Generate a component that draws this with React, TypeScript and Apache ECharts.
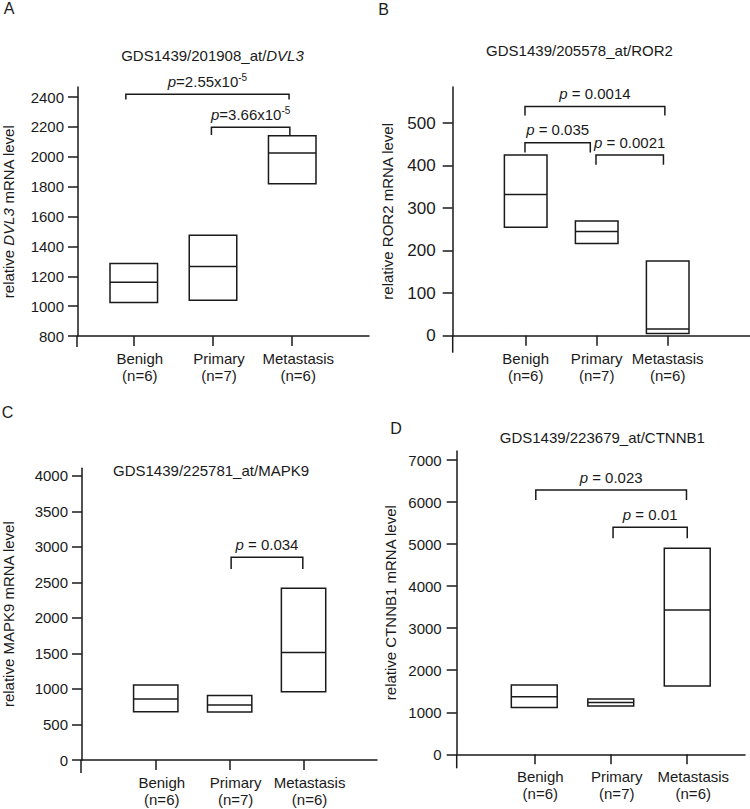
import { useEffect, useRef } from 'react';
import * as echarts from 'echarts';

// ---------- data ----------
const categories = ['Benigh', 'Primary', 'Metastasis'];
const groupSizes = [6, 7, 6];
const categoryPositions = [1, 2, 3];

const dvl3Low = [1025, 1040, 1820];
const dvl3Median = [1160, 1265, 2025];
const dvl3High = [1285, 1475, 2140];
const dvl3Ticks = [800, 1000, 1200, 1400, 1600, 1800, 2000, 2200, 2400];

const ror2Low = [255, 217, 5];
const ror2Median = [332, 245, 16];
const ror2High = [425, 270, 176];
const ror2Ticks = [0, 100, 200, 300, 400, 500];

const mapk9Low = [680, 675, 960];
const mapk9Median = [860, 775, 1515];
const mapk9High = [1055, 910, 2420];
const mapk9Ticks = [0, 500, 1000, 1500, 2000, 2500, 3000, 3500, 4000];

const ctnnb1Low = [1115, 1150, 1625];
const ctnnb1Median = [1370, 1235, 3430];
const ctnnb1High = [1650, 1315, 4900];
const ctnnb1Ticks = [0, 1000, 2000, 3000, 4000, 5000, 6000, 7000];

// brackets: [xFrom, xTo, bracket level, leg end level, label]
const dvl3Brackets: [number, number, number, number, string][] = [
  [0.9, 2.96, 2418, 2384, 'p=2.55x10^-5'],
  [1.98, 2.97, 2197, 2145, 'p=3.66x10^-5'],
];
const ror2Brackets: [number, number, number, number, string][] = [
  [0.99, 2.96, 539, 518, 'p = 0.0014'],
  [0.99, 1.91, 454, 431, 'p = 0.035'],
  [1.99, 2.94, 425, 402, 'p = 0.0021'],
];
const mapk9Brackets: [number, number, number, number, string][] = [
  [2.02, 2.99, 2855, 2690, 'p = 0.034'],
];
const ctnnb1Brackets: [number, number, number, number, string][] = [
  [1.02, 2.99, 6287, 6049, 'p = 0.023'],
  [2.03, 3.0, 5400, 5138, 'p = 0.01'],
];

// ---------- styling / layout ----------
const FONT = '"Liberation Sans", Arial, sans-serif';
const INK = '#1a1a1a';
const LW = 1.5;
const BOX_HALF = 0.3;

const panels = [
  {
    letter: 'A', letterPos: [9, 8],
    title: 'GDS1439/201908_at/{i|DVL3}', titlePos: [212.5, 55],
    yName: 'relative {i|DVL3} mRNA level', nameGap: 62,
    grid: { left: 77, top: 87, width: 292, height: 249 },
    xMin: 0.296, xMax: 3.969, yMin: 800, yMax: 2467,
    ticks: dvl3Ticks, tickFont: 15, labelMargin: 14, stub: 11, xShift: 12,
    low: dvl3Low, median: dvl3Median, high: dvl3High, brackets: dvl3Brackets,
  },
  {
    letter: 'B', letterPos: [383.5, 9],
    title: 'GDS1439/205578_at/ROR2', titlePos: [579.5, 50],
    yName: 'relative ROR2 mRNA level', nameGap: 58,
    grid: { left: 452.7, top: 87, width: 297.3, height: 248.7 },
    xMin: -0.028, xMax: 4.159, yMin: 0, yMax: 585,
    ticks: ror2Ticks, tickFont: 17, labelMargin: 17, stub: 17, xShift: 0,
    low: ror2Low, median: ror2Median, high: ror2High, brackets: ror2Brackets,
  },
  {
    letter: 'C', letterPos: [7.5, 412.5],
    title: 'GDS1439/225781_at/MAPK9', titlePos: [211, 470],
    yName: 'relative MAPK9 mRNA level', nameGap: 66,
    grid: { left: 81, top: 468.3, width: 296, height: 291.7 },
    xMin: 0.002, xMax: 3.994, yMin: 0, yMax: 4108,
    ticks: mapk9Ticks, tickFont: 15, labelMargin: 14, stub: 13, xShift: 12,
    low: mapk9Low, median: mapk9Median, high: mapk9High, brackets: mapk9Brackets,
  },
  {
    letter: 'D', letterPos: [396, 428],
    title: 'GDS1439/223679_at/CTNNB1', titlePos: [602.3, 437.7],
    yName: 'relative CTNNB1 mRNA level', nameGap: 59,
    grid: { left: 456.7, top: 451, width: 288.3, height: 303.3 },
    xMin: -0.014, xMax: 3.755, yMin: 0, yMax: 7215,
    ticks: ctnnb1Ticks, tickFont: 15, labelMargin: 15, stub: 14, xShift: 12,
    low: ctnnb1Low, median: ctnnb1Median, high: ctnnb1High, brackets: ctnnb1Brackets,
  },
];

function pLabel(s: string): string {
  const [main, sup] = s.split('^');
  const rest = main.slice(1);
  return `{i|p}{n|${rest}}` + (sup ? `{s|${sup}}` : '');
}

const pRich = {
  i: { fontStyle: 'italic', fontSize: 15, fontFamily: FONT, color: INK, lineHeight: 18 },
  n: { fontSize: 15, fontFamily: FONT, color: INK, lineHeight: 18 },
  s: { fontSize: 10, fontFamily: FONT, color: INK, verticalAlign: 'top', lineHeight: 12 },
};

function buildOption() {
  const grids: any[] = [];
  const xAxes: any[] = [];
  const yAxes: any[] = [];
  const series: any[] = [];
  const graphics: any[] = [];

  panels.forEach((p, k) => {
    grids.push({ ...p.grid, containLabel: false });
    xAxes.push({
      type: 'value', gridIndex: k, min: p.xMin, max: p.xMax,
      splitLine: { show: false },
      axisLine: { show: true, onZero: false, lineStyle: { color: INK, width: LW } },
      axisTick: { show: true, length: 10, customValues: categoryPositions, lineStyle: { color: INK, width: LW } },
      axisLabel: {
        customValues: categoryPositions,
        formatter: (v: number) => {
          const i = Math.round(v) - 1;
          return `${categories[i]}\n(n=${groupSizes[i]})`;
        },
        fontSize: 15, fontFamily: FONT, color: INK, lineHeight: 17, margin: 14,
        padding: [0, 0, 0, p.xShift],
      },
    });
    yAxes.push({
      type: 'value', gridIndex: k, min: p.yMin, max: p.yMax,
      splitLine: { show: false },
      axisLine: { show: true, onZero: false, lineStyle: { color: INK, width: LW } },
      axisTick: { show: true, length: 10, customValues: p.ticks, lineStyle: { color: INK, width: LW } },
      axisLabel: {
        customValues: p.ticks, fontSize: p.tickFont, fontFamily: FONT, color: INK, margin: p.labelMargin,
        formatter: (v: number) => String(v),
      },
      name: p.yName, nameLocation: 'middle', nameGap: p.nameGap, nameRotate: 90,
      nameTextStyle: {
        fontSize: 15, fontFamily: FONT, color: INK,
        rich: { i: { fontStyle: 'italic', fontSize: 15, fontFamily: FONT, color: INK } },
      },
    });

    const boxData = categoryPositions.map((x, i) => [x, p.low[i], p.median[i], p.high[i]]);
    series.push({
      type: 'custom', xAxisIndex: k, yAxisIndex: k, data: boxData, clip: false, z: 3,
      renderItem: (_params: any, api: any) => {
        const x = api.value(0), lo = api.value(1), md = api.value(2), hi = api.value(3);
        const tl = api.coord([x - BOX_HALF, hi]);
        const br = api.coord([x + BOX_HALF, lo]);
        const ml = api.coord([x - BOX_HALF, md]);
        const mr = api.coord([x + BOX_HALF, md]);
        return {
          type: 'group',
          children: [
            { type: 'rect', shape: { x: tl[0], y: tl[1], width: br[0] - tl[0], height: br[1] - tl[1] },
              style: { fill: '#ffffff', stroke: INK, lineWidth: LW } },
            { type: 'line', shape: { x1: ml[0], y1: ml[1], x2: mr[0], y2: mr[1] },
              style: { stroke: INK, lineWidth: LW } },
          ],
        };
      },
    });

    const brackets = p.brackets;
    series.push({
      type: 'custom', xAxisIndex: k, yAxisIndex: k, clip: false, z: 4,
      data: brackets.map((b) => [b[0], b[1], b[2], b[3]]),
      renderItem: (params: any, api: any) => {
        const x1 = api.value(0), x2 = api.value(1), y = api.value(2), leg = api.value(3);
        const a = api.coord([x1, leg]);
        const b = api.coord([x1, y]);
        const c = api.coord([x2, y]);
        const d = api.coord([x2, leg]);
        const label = brackets[params.dataIndex][4];
        return {
          type: 'group',
          children: [
            { type: 'polyline', shape: { points: [a, b, c, d] },
              style: { stroke: INK, lineWidth: LW, fill: 'none' } },
            { type: 'text', x: (b[0] + c[0]) / 2, y: b[1] - 4,
              style: { text: pLabel(label), rich: pRich, align: 'center', verticalAlign: 'bottom',
                fontSize: 15, fontFamily: FONT, fill: INK } },
          ],
        };
      },
    });

    // y-axis line continuing a little below the x axis
    const gx = p.grid.left;
    const gb = p.grid.top + p.grid.height;
    graphics.push({
      type: 'line', shape: { x1: gx, y1: gb, x2: gx, y2: gb + p.stub },
      style: { stroke: INK, lineWidth: LW },
    });
    graphics.push({
      type: 'text', x: p.titlePos[0], y: p.titlePos[1],
      style: {
        text: p.title, align: 'center', verticalAlign: 'middle', fontSize: 15, fontFamily: FONT, fill: INK,
        rich: { i: { fontStyle: 'italic', fontSize: 15, fontFamily: FONT, color: INK } },
      },
    });
    graphics.push({
      type: 'text', x: p.letterPos[0], y: p.letterPos[1],
      style: { text: p.letter, align: 'center', verticalAlign: 'middle', fontSize: 16, fontFamily: FONT, fill: INK },
    });
  });

  return {
    animation: false,
    backgroundColor: '#ffffff',
    textStyle: { fontFamily: FONT },
    grid: grids,
    xAxis: xAxes,
    yAxis: yAxes,
    series,
    graphic: graphics,
  };
}

export default function App() {
  const ref = useRef<HTMLDivElement>(null);
  useEffect(() => {
    document.body.style.margin = '0';
    if (!ref.current) return;
    const chart = echarts.init(ref.current, undefined, { renderer: 'svg' });
    chart.setOption(buildOption() as any);
    return () => chart.dispose();
  }, []);
  return <div ref={ref} style={{ width: 750, height: 809 }} />;
}
